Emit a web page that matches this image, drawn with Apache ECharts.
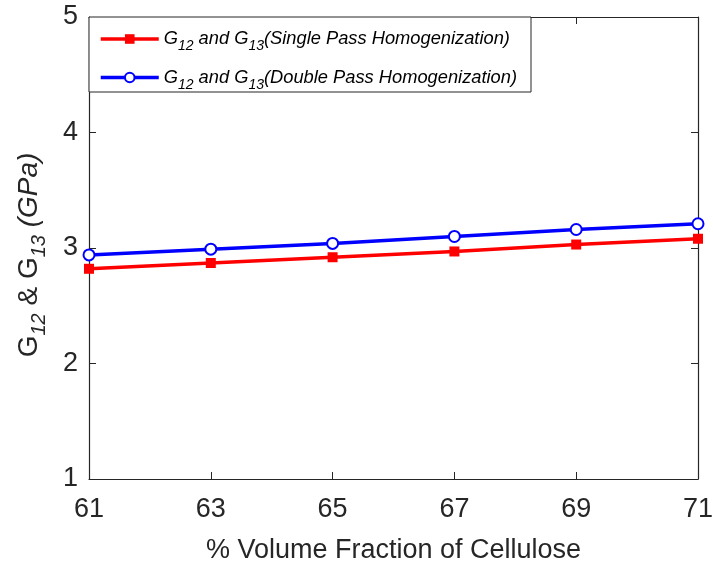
<!DOCTYPE html>
<html>
<head>
<meta charset="utf-8">
<script src="https://cdn.jsdelivr.net/npm/echarts@6/dist/echarts.min.js"></script>
<style>
  html, body { margin: 0; padding: 0; background: #fff; }
  #chart { width: 713px; height: 563px; }
</style>
</head>
<body>
<div id="chart"></div>
<script>
// Volume fraction of cellulose (%)
const volumeFraction = ['61', '63', '65', '67', '69', '71'];
// In-plane shear moduli G12 = G13 (GPa)
const singlePass = [2.82, 2.87, 2.92, 2.97, 3.03, 3.08];
const doublePass = [2.94, 2.99, 3.04, 3.10, 3.16, 3.21];
const yTicks = { min: 1, max: 5, step: 1 };

const FONT = '"Liberation Sans", Arial, Helvetica, sans-serif';
const AXIS_COLOR = '#262626';

const chart = echarts.init(document.getElementById('chart'));

const legendRich = {
  n: { fontSize: 18.3, fontStyle: 'italic', fontFamily: FONT, color: '#000' },
  s: { fontSize: 14, fontStyle: 'italic', fontFamily: FONT, color: '#000', padding: [15, 0, 0, 0] }
};

const nameRich = {
  n: { fontSize: 28, fontFamily: FONT, color: AXIS_COLOR },
  ni: { fontSize: 28, fontFamily: FONT, fontStyle: 'italic', color: AXIS_COLOR },
  s: { fontSize: 20, fontFamily: FONT, fontStyle: 'italic', color: AXIS_COLOR, padding: [20, 0, 0, 0] }
};

function legendLabel(name) {
  const kind = name.indexOf('Single') >= 0 ? 'Single' : 'Double';
  return '{n|G}{s|12}{n| and G}{s|13}{n|(' + kind + ' Pass Homogenization)}';
}

const boxAxisCommon = {
  axisLine: { show: true, lineStyle: { color: AXIS_COLOR, width: 1.2 } },
  splitLine: { show: false }
};

chart.setOption({
  backgroundColor: '#fff',
  animation: false,
  grid: { left: 89, right: 15, top: 17, bottom: 84, containLabel: false, outerBoundsMode: 'none' },
  legend: {
    left: 89,
    top: 17,
    orient: 'vertical',
    backgroundColor: '#fff',
    borderColor: '#262626',
    borderWidth: 1,
    padding: [13, 14, 0, 10],
    itemGap: 15,
    itemWidth: 58,
    itemHeight: 12,
    lineStyle: { width: 3.5 },
    formatter: legendLabel,
    textStyle: { rich: legendRich, padding: [0, 0, 0, 0] },
    data: ['Single', 'Double']
  },
  xAxis: [
    Object.assign({
      type: 'category',
      data: volumeFraction,
      boundaryGap: false,
      position: 'bottom',
      name: '% Volume Fraction of Cellulose',
      nameLocation: 'middle',
      nameGap: 58,
      nameTextStyle: { fontSize: 27, fontFamily: FONT, color: AXIS_COLOR },
      axisTick: { show: true, inside: true, length: 7, alignWithLabel: true, lineStyle: { color: AXIS_COLOR } },
      axisLabel: { fontSize: 27, fontFamily: FONT, color: AXIS_COLOR, margin: 17 }
    }, boxAxisCommon),
    Object.assign({
      type: 'category',
      data: volumeFraction,
      boundaryGap: false,
      position: 'top',
      axisTick: { show: true, inside: true, length: 7, lineStyle: { color: AXIS_COLOR } },
      axisLabel: { show: false }
    }, boxAxisCommon)
  ],
  yAxis: [
    Object.assign({
      type: 'value',
      min: yTicks.min,
      max: yTicks.max,
      interval: yTicks.step,
      position: 'left',
      name: '{n|G}{s|12}{n| & G}{s|13}{ni| (GPa)}',
      nameLocation: 'middle',
      nameGap: 40,
      nameRotate: 90,
      nameTextStyle: { rich: nameRich, padding: [0, 14, 0, 0] },
      axisTick: { show: true, inside: true, length: 7, lineStyle: { color: AXIS_COLOR } },
      axisLabel: { fontSize: 27, fontFamily: FONT, color: AXIS_COLOR, margin: 11 }
    }, boxAxisCommon),
    Object.assign({
      type: 'value',
      min: yTicks.min,
      max: yTicks.max,
      interval: yTicks.step,
      position: 'right',
      axisTick: { show: true, inside: true, length: 7, lineStyle: { color: AXIS_COLOR } },
      axisLabel: { show: false }
    }, boxAxisCommon)
  ],
  series: [
    {
      name: 'Single',
      type: 'line',
      data: singlePass,
      symbol: 'rect',
      symbolSize: 10,
      lineStyle: { color: '#ff0000', width: 3.5 },
      itemStyle: { color: '#ff0000' },
      z: 3
    },
    {
      name: 'Double',
      type: 'line',
      data: doublePass,
      symbol: 'emptyCircle',
      symbolSize: 11,
      lineStyle: { color: '#0000ff', width: 3.5 },
      itemStyle: { color: '#0000ff', borderColor: '#0000ff', borderWidth: 2.5 },
      z: 4
    }
  ]
});
</script>
</body>
</html>
